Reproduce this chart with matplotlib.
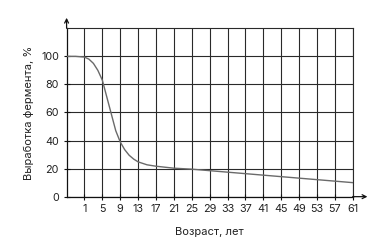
import matplotlib.pyplot as plt

plt.rcParams['font.family'] = ['Inter', 'DejaVu Sans']

# enzyme output (%) by age (years)
age = [-3, -1, 1, 2, 3, 4, 5, 6, 7, 8, 9, 10, 11, 12, 13, 15, 17, 19, 21, 25, 61]
enzyme = [100, 100, 99.5, 98, 95, 90, 83, 71, 59, 47, 39, 33.5, 29.5, 26.8, 24.8,
          22.7, 21.7, 21, 20.3, 19.6, 10]

x_ticks = list(range(1, 62, 4))
y_ticks = [0, 20, 40, 60, 80, 100]

fig = plt.figure(figsize=(3.72, 2.44), dpi=100)
ax = fig.add_axes([0.179, 0.194, 0.769, 0.690])

grid_col = '#2a2a2a'
ax.set_xlim(-3, 61)
ax.set_ylim(0, 120)
ax.set_xticks(x_ticks)
ax.set_yticks(y_ticks)
ax.grid(True, color=grid_col, linewidth=0.8)
ax.set_axisbelow(True)

for side in ['top', 'right']:
    ax.spines[side].set_color(grid_col)
    ax.spines[side].set_linewidth(0.8)
for side in ['left', 'bottom']:
    ax.spines[side].set_color('#111111')
    ax.spines[side].set_linewidth(0.9)

ax.tick_params(axis='both', direction='inout', length=5, width=0.8,
               color='#111111', labelsize=7.8, labelcolor='#222222', pad=3)

ax.plot(age, enzyme, color='#6a6a6a', linewidth=1.0, zorder=3)

# axis arrows
ax.annotate('', xy=(64.3, 0), xytext=(61, 0), annotation_clip=False,
            arrowprops=dict(arrowstyle='->', color='#111111', lw=0.9,
                            mutation_scale=7, shrinkA=0, shrinkB=0))
ax.annotate('', xy=(-3, 127.5), xytext=(-3, 120), annotation_clip=False,
            arrowprops=dict(arrowstyle='->', color='#111111', lw=0.9,
                            mutation_scale=7, shrinkA=0, shrinkB=0))

ax.set_xlabel('Возраст, лет', fontsize=8, color='#222222', labelpad=9)
ax.set_ylabel('Выработка фермента, %', fontsize=8, color='#222222', labelpad=5)

fig.savefig('out.png', dpi=100)
